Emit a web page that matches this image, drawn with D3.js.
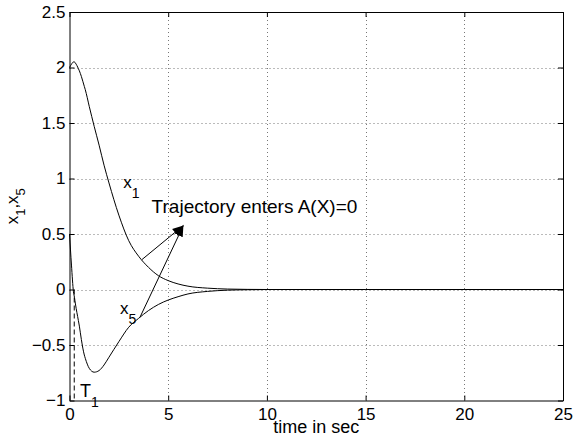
<!DOCTYPE html>
<html lang="en">
<head>
    <meta charset="UTF-8">
    <title>x1, x5 trajectories</title>
    <script src="https://cdn.jsdelivr.net/npm/d3@7"></script>
    <style>
        body { margin: 0; background: #fff; }
        text { font-family: "Liberation Sans", Arial, sans-serif; fill: #000; }
    </style>
</head>
<body>
    <div id="chart"></div>
    <script>
        // time samples (sec) and the two states
        const time = [0, 0.1, 0.2, 0.25, 0.3, 0.45, 0.5, 0.6, 0.75, 0.8, 1.0, 1.25, 1.5, 1.75, 2.0, 2.5, 3.0, 3.5, 4.0, 4.5, 5.0, 5.5, 6.0, 7.0, 8.0, 9.0, 10.0, 15.0, 20.0, 25.0];
        const x1 = [2.0, 2.03, 2.05, 2.05, 2.04, 1.99, 1.97, 1.92, 1.83, 1.80, 1.65, 1.47, 1.30, 1.12, 0.96, 0.67, 0.44, 0.30, 0.20, 0.125, 0.08, 0.05, 0.03, 0.012, 0.004, 0.001, 0, 0, 0, 0];
        const x5 = [0.5, 0.22, -0.02, -0.07, -0.13, -0.28, -0.33, -0.45, -0.59, -0.62, -0.71, -0.745, -0.73, -0.68, -0.61, -0.47, -0.34, -0.26, -0.19, -0.135, -0.095, -0.065, -0.04, -0.017, -0.006, -0.002, 0, 0, 0, 0];

        const xTicks = [0, 5, 10, 15, 20, 25];
        const yTicks = [-1, -0.5, 0, 0.5, 1, 1.5, 2, 2.5];

        const T1 = 0.24;                       // time x5 crosses zero
        const arrowTip = [5.77, 0.577];
        const arrowFrom = [[3.66, 0.268], [3.57, -0.25]];

        const width = 573, height = 439;
        const margin = { top: 12, right: 10, bottom: 38.5, left: 69.5 };

        const svg = d3.select("#chart").append("svg")
            .attr("width", width)
            .attr("height", height);

        svg.append("rect").attr("width", width).attr("height", height).attr("fill", "#fff");

        const x = d3.scaleLinear().domain([0, 25]).range([margin.left, width - margin.right]);
        const y = d3.scaleLinear().domain([-1, 2.5]).range([height - margin.bottom, margin.top]);

        const fmt = d3.format("~g");

        // dotted grid
        const grid = svg.append("g").attr("stroke", "#777").attr("stroke-width", 1)
            .attr("stroke-dasharray", "1,3");
        xTicks.slice(1, -1).forEach(t => {
            grid.append("line")
                .attr("x1", Math.round(x(t)) + 0.5).attr("x2", Math.round(x(t)) + 0.5)
                .attr("y1", y(2.5)).attr("y2", y(-1));
        });
        yTicks.slice(1, -1).forEach(v => {
            grid.append("line")
                .attr("x1", x(0)).attr("x2", x(25))
                .attr("y1", Math.round(y(v)) + 0.5).attr("y2", Math.round(y(v)) + 0.5);
        });

        // axes with inward ticks on all four sides
        const axisStyle = g => {
            g.selectAll("text").style("font-size", "17px").attr("fill", "#000");
            g.selectAll("path, line").attr("stroke", "#000");
        };
        svg.append("g").attr("transform", `translate(0,${y(-1)})`)
            .call(d3.axisBottom(x).tickValues(xTicks).tickFormat(fmt).tickSizeInner(-5).tickSizeOuter(0).tickPadding(7))
            .call(axisStyle);
        svg.append("g").attr("transform", `translate(0,${y(2.5)})`)
            .call(d3.axisTop(x).tickValues(xTicks).tickFormat("").tickSizeInner(-5).tickSizeOuter(0))
            .call(axisStyle);
        svg.append("g").attr("transform", `translate(${x(0)},0)`)
            .call(d3.axisLeft(y).tickValues(yTicks).tickFormat(fmt).tickSizeInner(-5).tickSizeOuter(0).tickPadding(4))
            .call(axisStyle);
        svg.append("g").attr("transform", `translate(${x(25)},0)`)
            .call(d3.axisRight(y).tickValues(yTicks).tickFormat("").tickSizeInner(-5).tickSizeOuter(0))
            .call(axisStyle);
        svg.selectAll(".tick text").attr("font-family", null);

        // curves
        const line = d3.line()
            .x(d => x(d[0]))
            .y(d => y(d[1]))
            .curve(d3.curveMonotoneX);

        [x1, x5].forEach(series => {
            svg.append("path")
                .datum(time.map((t, i) => [t, series[i]]))
                .attr("fill", "none")
                .attr("stroke", "#000")
                .attr("stroke-width", 1)
                .attr("d", line);
        });

        // T1 marker
        svg.append("line")
            .attr("x1", x(T1)).attr("x2", x(T1))
            .attr("y1", y(0)).attr("y2", y(-1))
            .attr("stroke", "#000").attr("stroke-dasharray", "5,3");

        // arrows
        svg.append("defs").append("marker")
            .attr("id", "head")
            .attr("viewBox", "0 0 10 10")
            .attr("refX", 10).attr("refY", 5)
            .attr("markerWidth", 11).attr("markerHeight", 11)
            .attr("markerUnits", "userSpaceOnUse")
            .attr("orient", "auto")
            .append("path").attr("d", "M0,1 L10,5 L0,9 Z").attr("fill", "#000");

        arrowFrom.forEach(p => {
            svg.append("line")
                .attr("x1", x(p[0])).attr("y1", y(p[1]))
                .attr("x2", x(arrowTip[0])).attr("y2", y(arrowTip[1]))
                .attr("stroke", "#000").attr("stroke-width", 1)
                .attr("marker-end", "url(#head)");
        });

        // text annotations
        function subLabel(g, main, sub, size, subSize) {
            g.append("tspan").text(main).style("font-size", size + "px");
            g.append("tspan").text(sub).attr("dy", 10).style("font-size", subSize + "px");
        }

        subLabel(svg.append("text").attr("x", x(2.72)).attr("y", y(0.91)), "x", "1", 17, 14);
        subLabel(svg.append("text").attr("x", x(2.56)).attr("y", y(-0.22)), "x", "5", 17, 14);
        subLabel(svg.append("text").attr("x", x(0.53)).attr("y", y(-0.97)), "T", "1", 18, 14);

        svg.append("text")
            .attr("x", x(4.16)).attr("y", y(0.69))
            .style("font-size", "19px")
            .text("Trajectory enters A(X)=0");

        // axis labels
        svg.append("text")
            .attr("x", (x(0) + x(25)) / 2).attr("y", 433)
            .attr("text-anchor", "middle")
            .style("font-size", "18px")
            .text("time in sec");

        const yl = svg.append("text")
            .attr("transform", `translate(18,${(y(-1) + y(2.5)) / 2}) rotate(-90)`)
            .attr("text-anchor", "middle");
        yl.append("tspan").text("x").style("font-size", "17px");
        yl.append("tspan").text("1").attr("dy", 7).style("font-size", "13px");
        yl.append("tspan").text(",x").attr("dy", -7).style("font-size", "17px");
        yl.append("tspan").text("5").attr("dy", 7).style("font-size", "13px");
    </script>
</body>
</html>
